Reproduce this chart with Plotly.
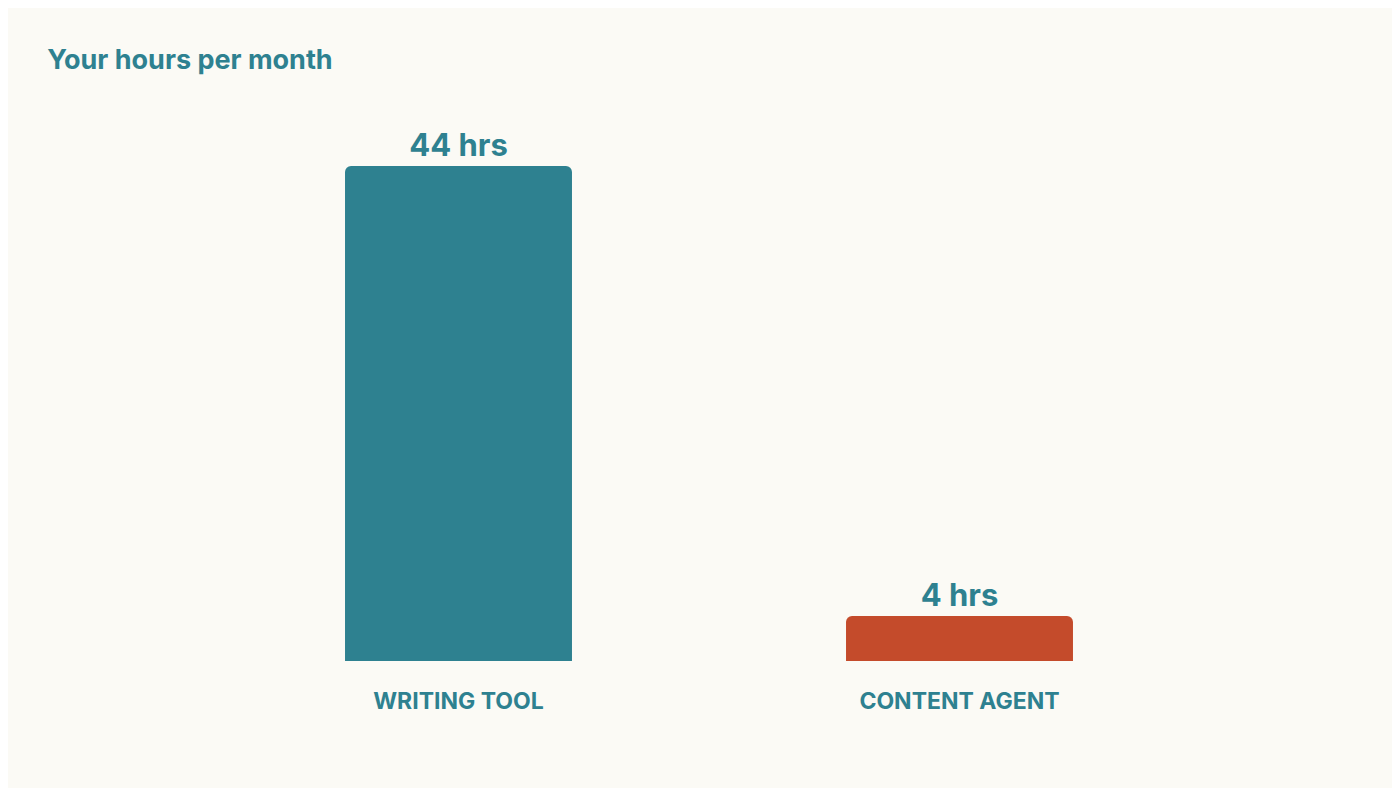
import plotly.graph_objects as go

categories = ["WRITING TOOL", "CONTENT AGENT"]
hours = [44, 4]
value_labels = ["44 hrs", "4 hrs"]
bar_colors = ["#2E8190", "#C44B2B"]

teal = "#2E8190"

fig = go.Figure(go.Bar(
    x=categories,
    y=hours,
    marker=dict(color=bar_colors, line_width=0, cornerradius=6),
    width=0.453,
    text=value_labels,
    textposition="outside",
    textfont=dict(family="Inter", size=31, color=teal, weight="bold"),
    cliponaxis=False,
))

fig.update_layout(
    width=1400, height=788,
    paper_bgcolor="#FBFAF5", plot_bgcolor="#FBFAF5",
    margin=dict(l=200, r=198, t=158, b=135),
    showlegend=False,
    title=dict(text="<b>Your hours per month</b>", x=0.028, xanchor="left",
               y=0.935, yanchor="middle",
               font=dict(family="Inter", size=27, color=teal)),
    xaxis=dict(range=[-0.5, 1.5], showgrid=False, zeroline=False, showline=False,
               ticks="", ticklabelstandoff=24,
               tickfont=dict(family="Inter", size=23, color=teal, weight="bold")),
    yaxis=dict(range=[0, 44], visible=False),
)

fig.write_html("out.html")
